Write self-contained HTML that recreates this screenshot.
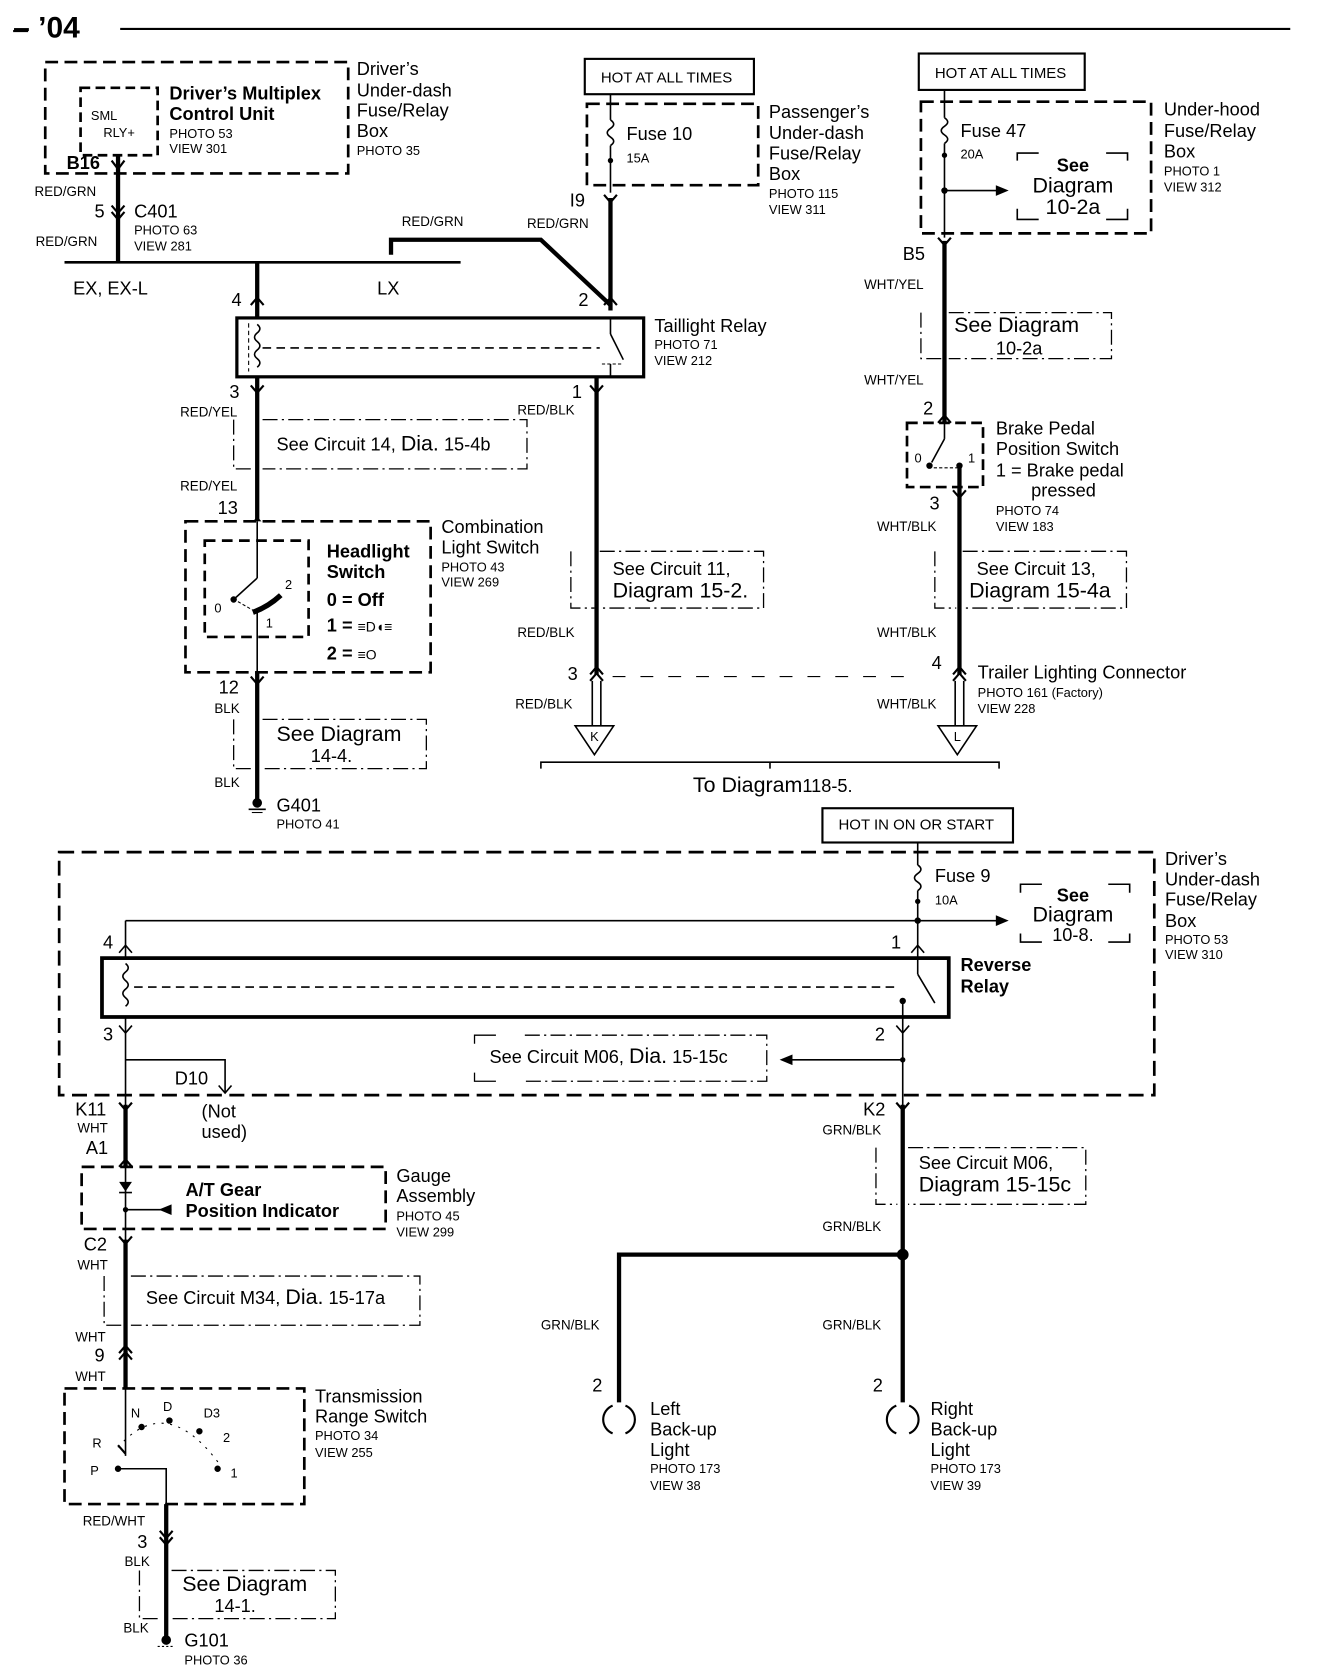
<!DOCTYPE html>
<html><head><meta charset="utf-8"><style>
html,body{margin:0;padding:0;background:#fff;}
svg{display:block;}
text{font-family:"Liberation Sans",Arial,sans-serif;fill:#000;}
.b{font-size:17px;}
.bb{font-size:17px;font-weight:bold;}
.s{font-size:12px;}
.w{font-size:12.5px;}
.m{font-size:14px;}
</style></head><body>
<svg width="1328" height="1670" viewBox="0 0 1240 1560" xmlns="http://www.w3.org/2000/svg">
<g fill="none" stroke="#000">
<line x1="112" y1="27" x2="1205" y2="27" stroke-width="2"/>
<line x1="12" y1="29" x2="26" y2="29" stroke-width="2"/>
<rect x="42" y="58" width="283" height="104" stroke-width="2.5" stroke-dasharray="12,6"/>
<rect x="75" y="82" width="72" height="63" stroke-width="2.5" stroke-dasharray="9,5"/>
<line x1="110" y1="145" x2="110" y2="245" stroke-width="4"/>
<polyline points="104,150 110,158 116,150" stroke-width="2"/>
<polyline points="104,192 110,199 116,192" stroke-width="2"/>
<polyline points="104,198 110,205 116,198" stroke-width="2"/>
<line x1="60" y1="245" x2="430" y2="245" stroke-width="2.5"/>
<polyline points="365,238 365,224 505,224 570,285" stroke-width="4"/>
<rect x="546" y="55" width="158" height="33" stroke-width="2"/>
<rect x="548" y="97" width="160" height="76" stroke-width="2.5" stroke-dasharray="12,6"/>
<line x1="570" y1="88" x2="570" y2="112" stroke-width="1.5"/>
<path d="M570,112 q6,4 0,8 q-6,4 0,8 q6,4 0,8" stroke-width="1.5"/>
<line x1="570" y1="136" x2="570" y2="180" stroke-width="1.5"/>
<circle cx="570" cy="150" r="2" fill="#000"/>
<polyline points="564,182 570,189 576,182" stroke-width="2"/>
<line x1="570" y1="185" x2="570" y2="290" stroke-width="4"/>
<polyline points="564,285 570,278 576,285" stroke-width="2"/>
<line x1="240" y1="245" x2="240" y2="297" stroke-width="4"/>
<polyline points="234,285 240,278 246,285" stroke-width="2"/>
<rect x="221" y="297" width="380" height="55" stroke-width="3"/>
<line x1="245" y1="325" x2="560" y2="325" stroke-width="1.5" stroke-dasharray="8,5"/>
<line x1="232" y1="302" x2="232" y2="347" stroke-width="1" stroke-dasharray="4,3"/>
<path d="M240,303 q5,4 0,8 q-5,4 0,8 q5,4 0,8 q-5,4 0,8 q5,4 0,8" stroke-width="1.5"/>
<line x1="570" y1="297" x2="570" y2="312" stroke-width="1.5"/>
<line x1="570" y1="312" x2="582" y2="336" stroke-width="1.5"/>
<line x1="570" y1="340" x2="570" y2="352" stroke-width="1.5"/>
<line x1="562" y1="340" x2="580" y2="340" stroke-width="1" stroke-dasharray="3,2"/>
<line x1="240" y1="352" x2="240" y2="750" stroke-width="4"/>
<polyline points="234,360 240,367 246,360" stroke-width="2"/>
<polyline points="234,491 240,484 246,491" stroke-width="2"/>
<polyline points="234,632 240,639 246,632" stroke-width="2"/>
<polyline points="218,392 218,438 237,438" stroke-width="1.2" stroke-dasharray="14,4,2,4"/>
<polyline points="245,392 492,392 492,438 245,438" stroke-width="1.2" stroke-dasharray="14,4,2,4"/>
<rect x="173" y="487" width="229" height="141" fill="#fff" stroke-width="2.5" stroke-dasharray="12,6"/>
<rect x="191" y="505" width="97" height="90" stroke-width="2.5" stroke-dasharray="10,6"/>
<line x1="240" y1="487" x2="240" y2="540" stroke-width="1.5"/>
<line x1="240" y1="540" x2="218" y2="560" stroke-width="1.5"/>
<circle cx="218" cy="560" r="2.5" fill="#000"/>
<path d="M236,572 Q250,567 262,556" stroke-width="5"/>
<line x1="240" y1="572" x2="240" y2="628" stroke-width="1.5"/>
<line x1="222" y1="562" x2="236" y2="570" stroke-width="1" stroke-dasharray="3,2"/>
<polyline points="218,672 218,718 237,718" stroke-width="1.2" stroke-dasharray="14,4,2,4"/>
<polyline points="245,672 398,672 398,718 245,718" stroke-width="1.2" stroke-dasharray="14,4,2,4"/>
<circle cx="240" cy="750" r="4" fill="#000"/>
<line x1="232" y1="756" x2="248" y2="756" stroke-width="1.5"/>
<line x1="235" y1="759" x2="245" y2="759" stroke-width="1"/>
<line x1="557" y1="352" x2="557" y2="630" stroke-width="4"/>
<polyline points="551,360 557,367 563,360" stroke-width="2"/>
<polyline points="551,630 557,623 563,630" stroke-width="2"/>
<polyline points="551,636 557,629 563,636" stroke-width="2"/>
<line x1="553" y1="636" x2="553" y2="678" stroke-width="1.5"/>
<line x1="561" y1="636" x2="561" y2="678" stroke-width="1.5"/>
<polygon points="537,678 573,678 555,705" stroke-width="1.5"/>
<polyline points="533,515 533,568 555,568" stroke-width="1.2" stroke-dasharray="14,4,2,4"/>
<polyline points="560,515 713,515 713,568 560,568" stroke-width="1.2" stroke-dasharray="14,4,2,4"/>
<line x1="572" y1="632" x2="850" y2="632" stroke-width="1" stroke-dasharray="12,14"/>
<polyline points="505,718 505,712 933,712 933,718" stroke-width="1.5"/>
<line x1="719" y1="712" x2="719" y2="718" stroke-width="1.5"/>
<rect x="858" y="50" width="155" height="34" stroke-width="2"/>
<rect x="860" y="95" width="215" height="123" stroke-width="2.5" stroke-dasharray="12,6"/>
<line x1="882" y1="84" x2="882" y2="110" stroke-width="1.5"/>
<path d="M882,110 q6,4 0,8 q-6,4 0,8 q6,4 0,8" stroke-width="1.5"/>
<line x1="882" y1="134" x2="882" y2="222" stroke-width="1.5"/>
<circle cx="882" cy="145" r="2" fill="#000"/>
<circle cx="882" cy="178" r="2.5" fill="#000"/>
<line x1="882" y1="178" x2="932" y2="178" stroke-width="1.5"/>
<polygon points="942,178 930,173 930,183" fill="#000" stroke="none"/>
<polyline points="950,150 950,143 970,143" stroke-width="1.5"/>
<polyline points="1033,143 1053,143 1053,150" stroke-width="1.5"/>
<polyline points="950,195 950,205 970,205" stroke-width="1.5"/>
<polyline points="1033,205 1053,205 1053,195" stroke-width="1.5"/>
<polyline points="876,222 882,229 888,222" stroke-width="2"/>
<line x1="882" y1="225" x2="882" y2="395" stroke-width="4"/>
<polyline points="860,292 860,335 880,335" stroke-width="1.2" stroke-dasharray="14,4,2,4"/>
<polyline points="886,292 1038,292 1038,335 886,335" stroke-width="1.2" stroke-dasharray="14,4,2,4"/>
<polyline points="876,395 882,388 888,395" stroke-width="2"/>
<rect x="847" y="395" width="71" height="60" stroke-width="2.5" stroke-dasharray="10,5"/>
<line x1="882" y1="395" x2="882" y2="410" stroke-width="1.5"/>
<line x1="882" y1="410" x2="870" y2="432" stroke-width="1.5"/>
<circle cx="868" cy="435" r="2.5" fill="#000"/>
<circle cx="896" cy="435" r="2.5" fill="#000"/>
<line x1="872" y1="437" x2="894" y2="437" stroke-width="1" stroke-dasharray="3,2"/>
<line x1="896" y1="435" x2="896" y2="630" stroke-width="4"/>
<polyline points="890,458 896,465 902,458" stroke-width="2"/>
<polyline points="873,515 873,568 893,568" stroke-width="1.2" stroke-dasharray="14,4,2,4"/>
<polyline points="899,515 1052,515 1052,568 899,568" stroke-width="1.2" stroke-dasharray="14,4,2,4"/>
<polyline points="890,630 896,623 902,630" stroke-width="2"/>
<polyline points="890,636 896,629 902,636" stroke-width="2"/>
<line x1="892" y1="636" x2="892" y2="678" stroke-width="1.5"/>
<line x1="900" y1="636" x2="900" y2="678" stroke-width="1.5"/>
<polygon points="876,678 912,678 894,705" stroke-width="1.5"/>
<rect x="768" y="755" width="178" height="32" stroke-width="2"/>
<rect x="55" y="796" width="1023" height="227" stroke-width="2.5" stroke-dasharray="14,7"/>
<line x1="857" y1="787" x2="857" y2="808" stroke-width="1.5"/>
<path d="M857,808 q6,4 0,8 q-6,4 0,8 q6,4 0,8" stroke-width="1.5"/>
<line x1="857" y1="832" x2="857" y2="895" stroke-width="1.5"/>
<circle cx="857" cy="842" r="2" fill="#000"/>
<circle cx="857" cy="860" r="2.5" fill="#000"/>
<line x1="117" y1="860" x2="932" y2="860" stroke-width="1.5"/>
<polygon points="942,860 930,855 930,865" fill="#000" stroke="none"/>
<line x1="117" y1="860" x2="117" y2="895" stroke-width="1.5"/>
<polyline points="111,890 117,883 123,890" stroke-width="1.5"/>
<polyline points="851,890 857,883 863,890" stroke-width="1.5"/>
<polyline points="953,834 953,826 973,826" stroke-width="1.5"/>
<polyline points="1035,826 1055,826 1055,834" stroke-width="1.5"/>
<polyline points="953,872 953,880 973,880" stroke-width="1.5"/>
<polyline points="1035,880 1055,880 1055,872" stroke-width="1.5"/>
<rect x="95" y="895" width="791" height="55" stroke-width="3.5"/>
<line x1="125" y1="922" x2="840" y2="922" stroke-width="1.5" stroke-dasharray="8,5"/>
<path d="M117,900 q5,4 0,8 q-5,4 0,8 q5,4 0,8 q-5,4 0,8 q5,4 0,8" stroke-width="1.5"/>
<line x1="857" y1="895" x2="857" y2="910" stroke-width="1.5"/>
<line x1="857" y1="910" x2="873" y2="937" stroke-width="1.5"/>
<line x1="843" y1="935" x2="843" y2="950" stroke-width="1.5"/>
<circle cx="843" cy="935" r="2.5" fill="#000"/>
<line x1="117" y1="950" x2="117" y2="1040" stroke-width="1.5"/>
<polyline points="111,958 117,965 123,958" stroke-width="1.5"/>
<polyline points="117,990 210,990 210,1020" stroke-width="1.5"/>
<polyline points="204,1014 210,1021 216,1014" stroke-width="1.5"/>
<line x1="843" y1="950" x2="843" y2="1040" stroke-width="1.5"/>
<polyline points="837,958 843,965 849,958" stroke-width="1.5"/>
<circle cx="843" cy="990" r="2" fill="#000"/>
<line x1="843" y1="990" x2="738" y2="990" stroke-width="1.5"/>
<polygon points="728,990 740,985 740,995" fill="#000" stroke="none"/>
<polyline points="443,975 443,967 463,967" stroke-width="1.2"/>
<polyline points="443,1002 443,1010 463,1010" stroke-width="1.2"/>
<polyline points="490,967 716,967 716,1010 490,1010" stroke-width="1.2" stroke-dasharray="14,4,2,4"/>
<polyline points="111,1030 117,1037 123,1030" stroke-width="2"/>
<line x1="117" y1="1032" x2="117" y2="1090" stroke-width="4"/>
<polyline points="111,1090 117,1083 123,1090" stroke-width="2"/>
<rect x="76" y="1090" width="284" height="58" stroke-width="2.5" stroke-dasharray="12,6"/>
<line x1="117" y1="1090" x2="117" y2="1160" stroke-width="1.5"/>
<polygon points="111,1104 123,1104 117,1113" fill="#000" stroke="none"/>
<line x1="111" y1="1114" x2="123" y2="1114" stroke-width="1.5"/>
<circle cx="117" cy="1130" r="2" fill="#000"/>
<line x1="117" y1="1130" x2="160" y2="1130" stroke-width="1.5"/>
<polygon points="148,1130 160,1125 160,1135" fill="#000" stroke="none"/>
<polyline points="111,1155 117,1162 123,1155" stroke-width="2"/>
<line x1="117" y1="1158" x2="117" y2="1297" stroke-width="4"/>
<polyline points="97,1192 97,1238 114,1238" stroke-width="1.2" stroke-dasharray="14,4,2,4"/>
<polyline points="122,1192 392,1192 392,1238 122,1238" stroke-width="1.2" stroke-dasharray="14,4,2,4"/>
<polyline points="111,1264 117,1257 123,1264" stroke-width="2"/>
<polyline points="111,1270 117,1263 123,1270" stroke-width="2"/>
<rect x="60" y="1297" width="224" height="108" stroke-width="2.5" stroke-dasharray="12,6"/>
<line x1="117" y1="1297" x2="117" y2="1360" stroke-width="1.5"/>
<path d="M110,1352 Q155,1300 205,1368" stroke-width="1" stroke-dasharray="2,6"/>
<circle cx="132" cy="1333" r="2.5" fill="#000"/>
<circle cx="158" cy="1327" r="2.5" fill="#000"/>
<circle cx="186" cy="1337" r="2.5" fill="#000"/>
<circle cx="203" cy="1372" r="2.5" fill="#000"/>
<circle cx="110" cy="1372" r="2.5" fill="#000"/>
<line x1="117" y1="1358" x2="110" y2="1350" stroke-width="2"/>
<polyline points="110,1372 155,1372 155,1535" stroke-width="1.5"/>
<line x1="155" y1="1405" x2="155" y2="1530" stroke-width="4"/>
<polyline points="149,1430 155,1437 161,1430" stroke-width="2"/>
<polyline points="149,1436 155,1443 161,1436" stroke-width="2"/>
<polyline points="130,1467 130,1512 150,1512" stroke-width="1.2" stroke-dasharray="14,4,2,4"/>
<polyline points="160,1467 313,1467 313,1512 160,1512" stroke-width="1.2" stroke-dasharray="14,4,2,4"/>
<circle cx="155" cy="1532" r="4" fill="#000"/>
<line x1="147" y1="1538" x2="163" y2="1538" stroke-width="1" stroke-dasharray="2,2"/>
<polyline points="837,1030 843,1037 849,1030" stroke-width="2"/>
<line x1="843" y1="1032" x2="843" y2="1310" stroke-width="4"/>
<polyline points="818,1072 818,1125 838,1125" stroke-width="1.2" stroke-dasharray="14,4,2,4"/>
<polyline points="848,1072 1014,1072 1014,1125 848,1125" stroke-width="1.2" stroke-dasharray="14,4,2,4"/>
<circle cx="843" cy="1172" r="5" fill="#000"/>
<polyline points="843,1172 578,1172 578,1310" stroke-width="4"/>
<path d="M572,1313 A14,14 0 0 0 572,1339" stroke-width="2"/>
<path d="M584,1313 A14,14 0 0 1 584,1339" stroke-width="2"/>
<path d="M837,1313 A14,14 0 0 0 837,1339" stroke-width="2"/>
<path d="M849,1313 A14,14 0 0 1 849,1339" stroke-width="2"/>
</g>
<g>
<text x="12" y="35" style="font-size:28px;font-weight:bold">– ’04</text>
<text x="97" y="112" class="s" text-anchor="middle">SML</text>
<text x="111" y="128" class="s" text-anchor="middle">RLY+</text>
<text x="158" y="93" class="bb">Driver’s Multiplex</text>
<text x="158" y="112" class="bb">Control Unit</text>
<text x="158" y="129" class="s">PHOTO 53</text>
<text x="158" y="143" class="s">VIEW 301</text>
<text x="333" y="70" class="b">Driver’s</text>
<text x="333" y="90" class="b">Under-dash</text>
<text x="333" y="109" class="b">Fuse/Relay</text>
<text x="333" y="128" class="b">Box</text>
<text x="333" y="145" class="s">PHOTO 35</text>
<text x="62" y="158" class="bb">B16</text>
<text x="32" y="183" class="w">RED/GRN</text>
<text x="88" y="203" class="b">5</text>
<text x="125" y="203" class="b">C401</text>
<text x="125" y="219" class="s">PHOTO 63</text>
<text x="125" y="234" class="s">VIEW 281</text>
<text x="33" y="230" class="w">RED/GRN</text>
<text x="68" y="275" class="b">EX, EX-L</text>
<text x="352" y="275" class="b">LX</text>
<text x="216" y="286" class="b">4</text>
<text x="540" y="286" class="b">2</text>
<text x="375" y="211" class="w">RED/GRN</text>
<text x="492" y="213" class="w">RED/GRN</text>
<text x="561" y="77" class="m">HOT AT ALL TIMES</text>
<text x="585" y="131" class="b">Fuse 10</text>
<text x="585" y="152" class="s">15A</text>
<text x="532" y="193" class="b">I9</text>
<text x="718" y="110" class="b">Passenger’s</text>
<text x="718" y="130" class="b">Under-dash</text>
<text x="718" y="149" class="b">Fuse/Relay</text>
<text x="718" y="168" class="b">Box</text>
<text x="718" y="185" class="s">PHOTO 115</text>
<text x="718" y="200" class="s">VIEW 311</text>
<text x="611" y="310" class="b">Taillight Relay</text>
<text x="611" y="326" class="s">PHOTO 71</text>
<text x="611" y="341" class="s">VIEW 212</text>
<text x="214" y="372" class="b">3</text>
<text x="168" y="389" class="w">RED/YEL</text>
<text x="258" y="421" class="b">See Circuit 14, <tspan style="font-size:20px">Dia.</tspan> 15-4b</text>
<text x="168" y="458" class="w">RED/YEL</text>
<text x="203" y="480" class="b">13</text>
<text x="412" y="498" class="b">Combination</text>
<text x="412" y="517" class="b">Light Switch</text>
<text x="412" y="534" class="s">PHOTO 43</text>
<text x="412" y="548" class="s">VIEW 269</text>
<text x="305" y="521" class="bb">Headlight</text>
<text x="305" y="540" class="bb">Switch</text>
<text x="305" y="566" class="bb">0 = Off</text>
<text x="305" y="590" class="bb">1 = <tspan style="font-size:13px;font-weight:normal">≡D◖≡</tspan></text>
<text x="305" y="616" class="bb">2 = <tspan style="font-size:13px;font-weight:normal">≡O</tspan></text>
<text x="200" y="572" class="s">0</text>
<text x="266" y="550" class="s">2</text>
<text x="248" y="586" class="s">1</text>
<text x="204" y="648" class="b">12</text>
<text x="200" y="666" class="w">BLK</text>
<text x="258" y="692" style="font-size:20px">See Diagram</text>
<text x="290" y="712" class="b">14-4.</text>
<text x="200" y="735" class="w">BLK</text>
<text x="258" y="758" class="b">G401</text>
<text x="258" y="774" class="s">PHOTO 41</text>
<text x="534" y="372" class="b">1</text>
<text x="483" y="387" class="w">RED/BLK</text>
<text x="572" y="537" class="b">See Circuit 11,</text>
<text x="572" y="558" style="font-size:20px">Diagram  15-2.</text>
<text x="483" y="595" class="w">RED/BLK</text>
<text x="530" y="635" class="b">3</text>
<text x="481" y="662" class="w">RED/BLK</text>
<text x="555" y="692" class="s" text-anchor="middle">K</text>
<text x="647" y="740" style="font-size:20px">To Diagram<tspan class="b">118-5.</tspan></text>
<text x="873" y="73" class="m">HOT AT ALL TIMES</text>
<text x="897" y="128" class="b">Fuse 47</text>
<text x="897" y="148" class="s">20A</text>
<text x="1002" y="160" class="bb" text-anchor="middle">See</text>
<text x="1002" y="180" style="font-size:20px" text-anchor="middle">Diagram</text>
<text x="1002" y="200" style="font-size:20px" text-anchor="middle">10-2a</text>
<text x="1087" y="108" class="b">Under-hood</text>
<text x="1087" y="128" class="b">Fuse/Relay</text>
<text x="1087" y="147" class="b">Box</text>
<text x="1087" y="164" class="s">PHOTO 1</text>
<text x="1087" y="179" class="s">VIEW 312</text>
<text x="843" y="243" class="b">B5</text>
<text x="807" y="270" class="w">WHT/YEL</text>
<text x="891" y="310" style="font-size:20px">See Diagram</text>
<text x="930" y="331" class="b">10-2a</text>
<text x="807" y="359" class="w">WHT/YEL</text>
<text x="862" y="387" class="b">2</text>
<text x="854" y="432" class="s">0</text>
<text x="904" y="432" class="s">1</text>
<text x="930" y="406" class="b">Brake Pedal</text>
<text x="930" y="425" class="b">Position Switch</text>
<text x="930" y="445" class="b">1 =  Brake pedal</text>
<text x="963" y="464" class="b">pressed</text>
<text x="930" y="481" class="s">PHOTO 74</text>
<text x="930" y="496" class="s">VIEW 183</text>
<text x="868" y="476" class="b">3</text>
<text x="819" y="496" class="w">WHT/BLK</text>
<text x="912" y="537" class="b">See Circuit 13,</text>
<text x="905" y="558" style="font-size:20px">Diagram 15-4a</text>
<text x="819" y="595" class="w">WHT/BLK</text>
<text x="870" y="625" class="b">4</text>
<text x="913" y="634" class="b">Trailer Lighting Connector</text>
<text x="913" y="651" class="s">PHOTO 161 (Factory)</text>
<text x="913" y="666" class="s">VIEW 228</text>
<text x="819" y="662" class="w">WHT/BLK</text>
<text x="894" y="692" class="s" text-anchor="middle">L</text>
<text x="783" y="775" class="m">HOT IN ON OR START</text>
<text x="873" y="824" class="b">Fuse 9</text>
<text x="873" y="845" class="s">10A</text>
<text x="1002" y="842" class="bb" text-anchor="middle">See</text>
<text x="1002" y="861" style="font-size:20px" text-anchor="middle">Diagram</text>
<text x="1002" y="879" class="b" text-anchor="middle">10-8.</text>
<text x="1088" y="808" class="b">Driver’s</text>
<text x="1088" y="827" class="b">Under-dash</text>
<text x="1088" y="846" class="b">Fuse/Relay</text>
<text x="1088" y="866" class="b">Box</text>
<text x="1088" y="882" class="s">PHOTO 53</text>
<text x="1088" y="896" class="s">VIEW 310</text>
<text x="96" y="886" class="b">4</text>
<text x="832" y="886" class="b">1</text>
<text x="897" y="907" class="bb">Reverse</text>
<text x="897" y="927" class="bb">Relay</text>
<text x="96" y="972" class="b">3</text>
<text x="817" y="972" class="b">2</text>
<text x="163" y="1013" class="b">D10</text>
<text x="457" y="993" class="b">See Circuit M06, <tspan style="font-size:20px">Dia.</tspan> 15-15c</text>
<text x="70" y="1042" class="b">K11</text>
<text x="72" y="1058" class="w">WHT</text>
<text x="80" y="1078" class="b">A1</text>
<text x="188" y="1044" class="b">(Not</text>
<text x="188" y="1063" class="b">used)</text>
<text x="806" y="1042" class="b">K2</text>
<text x="768" y="1060" class="w">GRN/BLK</text>
<text x="173" y="1117" class="bb">A/T Gear</text>
<text x="173" y="1137" class="bb">Position Indicator</text>
<text x="370" y="1104" class="b">Gauge</text>
<text x="370" y="1123" class="b">Assembly</text>
<text x="370" y="1140" class="s">PHOTO 45</text>
<text x="370" y="1155" class="s">VIEW 299</text>
<text x="78" y="1168" class="b">C2</text>
<text x="72" y="1186" class="w">WHT</text>
<text x="136" y="1218" class="b">See Circuit M34, <tspan style="font-size:20px">Dia.</tspan> 15-17a</text>
<text x="70" y="1253" class="w">WHT</text>
<text x="88" y="1272" class="b">9</text>
<text x="70" y="1290" class="w">WHT</text>
<text x="122" y="1324" class="s">N</text>
<text x="152" y="1318" class="s">D</text>
<text x="190" y="1324" class="s">D3</text>
<text x="208" y="1347" class="s">2</text>
<text x="86" y="1352" class="s">R</text>
<text x="84" y="1378" class="s">P</text>
<text x="215" y="1380" class="s">1</text>
<text x="294" y="1310" class="b">Transmission</text>
<text x="294" y="1329" class="b">Range Switch</text>
<text x="294" y="1345" class="s">PHOTO 34</text>
<text x="294" y="1361" class="s">VIEW 255</text>
<text x="77" y="1425" class="w">RED/WHT</text>
<text x="128" y="1446" class="b">3</text>
<text x="116" y="1463" class="w">BLK</text>
<text x="170" y="1486" style="font-size:20px">See Diagram</text>
<text x="200" y="1506" class="b">14-1.</text>
<text x="115" y="1525" class="w">BLK</text>
<text x="172" y="1538" class="b">G101</text>
<text x="172" y="1555" class="s">PHOTO 36</text>
<text x="858" y="1092" class="b">See Circuit M06,</text>
<text x="858" y="1113" style="font-size:20px">Diagram 15-15c</text>
<text x="768" y="1150" class="w">GRN/BLK</text>
<text x="505" y="1242" class="w">GRN/BLK</text>
<text x="768" y="1242" class="w">GRN/BLK</text>
<text x="553" y="1300" class="b">2</text>
<text x="815" y="1300" class="b">2</text>
<text x="607" y="1322" class="b">Left</text>
<text x="607" y="1341" class="b">Back-up</text>
<text x="607" y="1360" class="b">Light</text>
<text x="607" y="1376" class="s">PHOTO 173</text>
<text x="607" y="1392" class="s">VIEW 38</text>
<text x="869" y="1322" class="b">Right</text>
<text x="869" y="1341" class="b">Back-up</text>
<text x="869" y="1360" class="b">Light</text>
<text x="869" y="1376" class="s">PHOTO 173</text>
<text x="869" y="1392" class="s">VIEW 39</text>
</g>
</svg>
</body></html>
